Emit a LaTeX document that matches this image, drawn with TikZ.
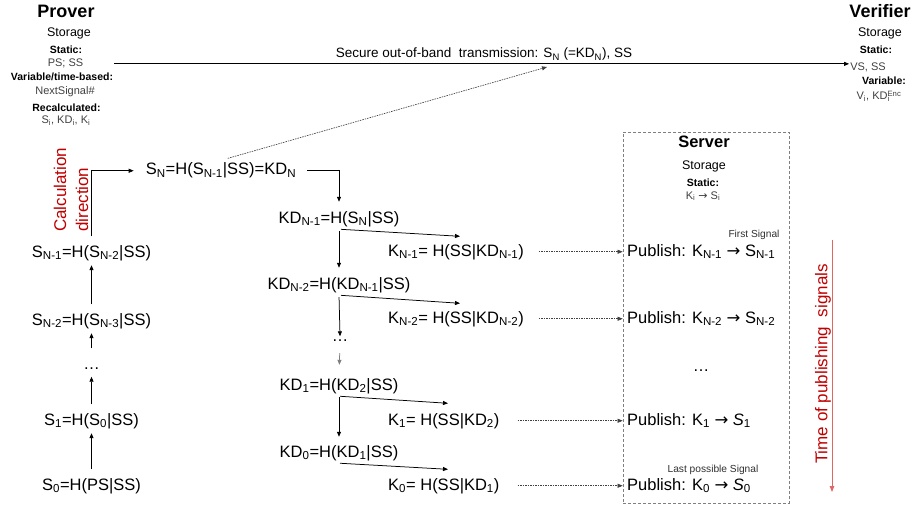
\documentclass[tikz,border=0pt]{standalone}
\usepackage{fontspec}
\setmainfont{Liberation Sans}
\newfontfamily\arrowfont{DejaVu Sans}
\usetikzlibrary{arrows.meta}
\definecolor{calcred}{HTML}{C00000}
\definecolor{timered}{HTML}{E06666}
\definecolor{infogray}{HTML}{404040}
\definecolor{notegray}{HTML}{303030}
\definecolor{dotgray}{HTML}{404040}
\definecolor{boxgray}{HTML}{7F7F7F}
\newcommand{\lo}[1]{\textsubscript{#1}}
\newcommand{\hi}[1]{\textsuperscript{#1}}
\newcommand{\maps}{{\arrowfont →}}

\begin{document}
\begin{tikzpicture}[
  x=1pt, y=-1pt,
  every node/.style={inner sep=1pt, anchor=base},
  formula/.style={font=\fontsize{16.5}{19}\selectfont, inner sep=2pt,
    text height=12.5pt, text depth=4pt},
  dotsnode/.style={font=\fontsize{16.5}{19}\selectfont, inner sep=2pt,
    text height=4pt, text depth=0pt},
  title/.style={font=\fontsize{18}{20}\selectfont\bfseries},
  storage/.style={font=\fontsize{12.5}{14}\selectfont},
  kind/.style={font=\fontsize{10.5}{12}\selectfont\bfseries},
  info/.style={font=\fontsize{11}{13}\selectfont, text=infogray},
  note/.style={font=\fontsize{10.2}{12}\selectfont, text=notegray},
  redlabel/.style={font=\fontsize{17}{22}\selectfont, text=calcred,
    rotate=90, inner sep=0pt, align=left},
  arr/.style={-{Triangle[length=5pt,width=4pt]}, line width=0.75pt},
  uparr/.style={arr, shorten <=6pt, shorten >=2pt},
  dotarr/.style={-{Triangle[length=5pt,width=4pt]}, line width=0.65pt,
    draw=dotgray, dash pattern=on 1.5pt off 1pt},
  timearr/.style={-{Triangle[length=6pt,width=4.5pt]}, draw=timered,
    line width=0.8pt},
  serverbox/.style={draw=boxgray, dash pattern=on 3pt off 2pt,
    line width=0.7pt, minimum width=166pt, minimum height=371pt,
    anchor=center, inner sep=0pt}
]
\useasboundingbox (0,0) rectangle (913,508);

% prover
\node[title]   (prover) at (66,18)   {Prover};
\node[storage] (pstore) at (69,37)   {Storage};
\node[kind]    (pstat)  at (66,54)   {Static:};
\node[info]    (ps)     at (65.5,67) {PS; SS};
\node[kind]    (pvar)   at (62,81)   {Variable/time-based:};
\node[info]    (pnext)  at (65,95)   {NextSignal\#};
\node[kind]    (prec)   at (66.5,112) {Recalculated:};
\node[info]    (pval)   at (66,124)  {S\lo{i}, KD\lo{i}, K\lo{i}};

% verifier
\node[title]   (verifier) at (880,18) {Verifier};
\node[storage] (vstore)   at (880,37) {Storage};
\node[kind]    (vstat)    at (876,54) {Static:};
\node[info]    (vs)       at (868,71) {VS, SS};
\node[kind]    (vvar)     at (884,85) {Variable:};
\node[info]    (vval)     at (879,100) {V\lo{i}, KD\rlap{\lo{i}}\hi{Enc}};

\node[font=\fontsize{13.5}{15}\selectfont] (tx) at (484,58)
  {Secure out-of-band\ \ transmission: S\lo{N} (=KD\lo{N}), SS};
\coordinate (txin) at (547,67);
\draw[arr, shorten <=30pt] (ps.east) -- (ps.east -| vs.west);

% calculation chain
\node[redlabel, anchor=west] (calcdir) at (71,232) {Calculation\\direction};
\node[formula] (s0)   at (91.5,490) {S\lo{0}=H(PS|SS)};
\node[formula] (s1)   at (91.5,425) {S\lo{1}=H(S\lo{0}|SS)};
\node[dotsnode] (ldots) at (91.5,369.5) {\dots};
\node[formula] (snm2) at (91.5,325) {S\lo{N-2}=H(S\lo{N-3}|SS)};
\node[formula] (snm1) at (91.5,257) {S\lo{N-1}=H(S\lo{N-2}|SS)};
\node[formula] (sn)   at (221,175)  {S\lo{N}=H(S\lo{N-1}|SS)=KD\lo{N}};

\draw[uparr] (s0) -- (s1);
\draw[uparr, shorten >=5pt] (s1) -- (ldots);
\draw[uparr, shorten <=15pt] (ldots) -- (snm2);
\draw[uparr] (snm2) -- (snm1);
\draw[arr, shorten <=6pt, shorten >=10pt] (snm1.north) |- (sn.west);
\draw[dotarr, shorten <=7pt] (sn.north) -- (txin);

% key derivation
\node[formula] (kdn1) at (339,223) {KD\lo{N-1}=H(S\lo{N}|SS)};
\node[formula] (kdn2) at (339,289) {KD\lo{N-2}=H(KD\lo{N-1}|SS)};
\node[dotsnode] (rdots) at (340,341.5) {\dots};
\node[formula] (kd1)  at (339,390) {KD\lo{1}=H(KD\lo{2}|SS)};
\node[formula] (kd0)  at (339,457) {KD\lo{0}=H(KD\lo{1}|SS)};

\node[formula, anchor=base west] (kn1) at (386,256) {K\lo{N-1}= H(SS|KD\lo{N-1})};
\node[formula, anchor=base west] (kn2) at (386,323) {K\lo{N-2}= H(SS|KD\lo{N-2})};
\node[formula, anchor=base west] (k1)  at (386,425) {K\lo{1}= H(SS|KD\lo{2})};
\node[formula, anchor=base west] (k0)  at (386,490) {K\lo{0}= H(SS|KD\lo{1})};

\draw[arr, shorten <=9pt, shorten >=6.5pt] (sn.east) -| (kdn1.north);
\draw[arr, shorten <=2pt, shorten >=6.5pt] (kdn1.south) -- (kdn2.north);
\draw[arr, shorten <=2pt] (kdn1.south) -- ([shift={(74,-5)}]kn1.north west);
\draw[arr, shorten <=2pt, shorten >=-1pt] (kdn2.south) -- (rdots.north);
\draw[arr, shorten <=2pt] (kdn2.south) -- ([shift={(74,-5)}]kn2.north west);
\draw[arr, draw=boxgray, shorten <=9.5pt, shorten >=10.5pt] (rdots.south) -- (kd1.north);
\draw[arr, shorten <=1pt, shorten >=5.5pt] (kd1.south) -- (kd0.north);
\draw[arr, shorten <=1pt] (kd1.south) -- ([shift={(62,-7)}]k1.north west);
\draw[arr, shorten <=1pt] (kd0.south) -- ([shift={(62,-6)}]k0.north west);

% server
\node[serverbox] (srv) at (706,317.5) {};
\node[font=\fontsize{16.5}{19}\selectfont\bfseries] (srvname) at (704,148) {Server};
\node[storage] (sstore) at (704,170) {Storage};
\node[kind]    (sstat)  at (703,186) {Static:};
\node[info]    (sval)   at (703,199) {K\lo{i} \maps{} S\lo{i}};
\node[note]    (first)  at (754,237) {First Signal};
\node[note]    (last)   at (713,472) {Last possible Signal};

\node[formula, anchor=base west] (pn1) at (625,256) {Publish: K\lo{N-1} \maps{} S\lo{N-1}};
\node[formula, anchor=base west] (pn2) at (625,323) {Publish: K\lo{N-2} \maps{} S\lo{N-2}};
\node[dotsnode] (pdots) at (701,371) {\dots};
\node[formula, anchor=base west] (p1)  at (625,425) {Publish: K\lo{1} \maps{} \textit{S}\lo{1}};
\node[formula, anchor=base west] (p0)  at (625,490) {Publish: K\lo{0} \maps{} \textit{S}\lo{0}};

\draw[dotarr, shorten <=13pt] (kn1.east) -- (kn1.east -| srv.west);
\draw[dotarr, shorten <=13pt] (kn2.east) -- (kn2.east -| srv.west);
\draw[dotarr, shorten <=16pt] (k1.east)  -- (k1.east -| srv.west);
\draw[dotarr, shorten <=16pt] (k0.east)  -- (k0.east -| srv.west);

% time axis
\node[redlabel, anchor=center] (timelbl) at (823,364) {Time of publishing\ \ signals};
\coordinate (tstart) at (832,240);
\coordinate (tend)   at (832,492);
\draw[timearr] (tstart) -- (tend);
\end{tikzpicture}
\end{document}
